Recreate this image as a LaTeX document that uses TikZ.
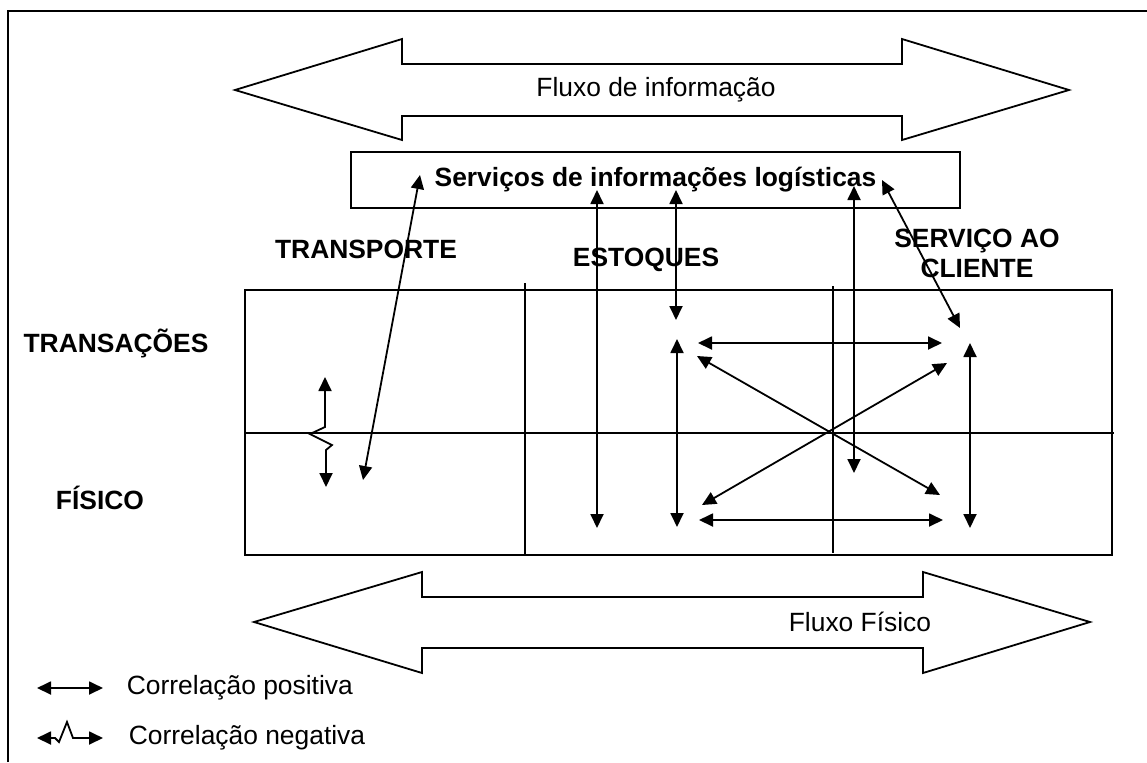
\documentclass[tikz,border=0pt]{standalone}
\usepackage{fontspec}
\setmainfont{Liberation Sans}
\usetikzlibrary{arrows.meta}

\begin{document}
\begin{tikzpicture}[x=0.5pt,y=-0.5pt,line width=0.9pt,
  txt/.style={font=\fontsize{13.2pt}{15pt}\selectfont,inner sep=0pt},
  lbl/.style={font=\fontsize{13.2pt}{15pt}\selectfont\bfseries,inner sep=0pt,align=center,anchor=base}]
\useasboundingbox (0,0) rectangle (1147,762);

% moldura
\draw (8,762) -- (8,11) -- (1147,11);

% setas largas de fluxo
\draw (235,90) -- (402,39) -- (402,64) -- (902,64) -- (902,39) -- (1069,90)
  -- (902,140) -- (902,116) -- (402,116) -- (402,140) -- cycle;
\node [txt] (info) at (656,90) {Fluxo de informação};
\draw (254,622) -- (422,572) -- (422,597) -- (923,597) -- (923,572) -- (1090,622)
  -- (923,673) -- (923,648) -- (422,648) -- (422,673) -- cycle;
\node [txt] (fisico) at (860,622) {Fluxo Físico};

% caixa de servicos
\node [draw, font=\fontsize{13.2pt}{15pt}\selectfont\bfseries, minimum width=304.5pt,
  minimum height=28pt] (sil) at (655.5,180) {Serviços de informações logísticas};

% quadro
\draw (245,290) rectangle (1112,555);
\draw (245,433) -- (1114,433);
\draw (525,283) -- (525,555);
\draw (833,286) -- (833,553);

% rotulos
\node [lbl] (transp) at (366,258) {TRANSPORTE};
\node [lbl] (estoq) at (646,266) {ESTOQUES};
\node [lbl] (cliente) at (977,277) {SERVIÇO AO\\CLIENTE};
\node [lbl] (transac) at (116,352) {TRANSAÇÕES};
\node [lbl] (fis) at (100,509) {FÍSICO};

% pontas das setas
\coordinate (t1) at (420,175);  \coordinate (t2) at (363,480);
\coordinate (e1) at (597,190);  \coordinate (e2) at (597,528);
\coordinate (e3) at (676,190);  \coordinate (e4) at (676,320);
\coordinate (s1) at (854,186);  \coordinate (s2) at (854,473);
\coordinate (c1) at (882,180);  \coordinate (c2) at (960,328);
\coordinate (a1) at (677,339);  \coordinate (a2) at (677,527);
\coordinate (b1) at (698,343);  \coordinate (b2) at (942,343);
\coordinate (d1) at (697,356);  \coordinate (d2) at (940,495);
\coordinate (d3) at (702,505);  \coordinate (d4) at (947,363);
\coordinate (b3) at (699,520);  \coordinate (b4) at (943,520);
\coordinate (r1) at (970,343);  \coordinate (r2) at (970,528);
\coordinate (z1) at (325,377);  \coordinate (z2) at (326,487);

\begin{scope}[>={Triangle[length=7pt,width=6.5pt]}]
\draw [<->] (t1) to (t2);
\draw [<->] (e1) to (e2);
\draw [<->] (e3) to (e4);
\draw [<->] (s1) to (s2);
\draw [<->] (c1) to (c2);
\draw [<->] (a1) to (a2);
\draw [<->] (b1) to (b2);
\draw [<->] (d1) to (d2);
\draw [<->] (d3) to (d4);
\draw [<->] (b3) to (b4);
\draw [<->] (r1) to (r2);
\draw [<->] (z1) -- (325,427) -- (310,434) -- (332,445) -- (326,450) -- (z2);

% legenda
\coordinate (p1) at (37,688);  \coordinate (p2) at (103,688);
\coordinate (n1) at (37,738);  \coordinate (n2) at (103,738);
\draw [<->] (p1) to (p2);
\draw [<->] (n1) -- (55,738) -- (59,742) -- (67,722) -- (73,738) -- (n2);
\end{scope}
\node [txt, anchor=west] (pos) at (126,688) {Correlação positiva};
\node [txt, anchor=west] (neg) at (128,738) {Correlação negativa};
\end{tikzpicture}
\end{document}
